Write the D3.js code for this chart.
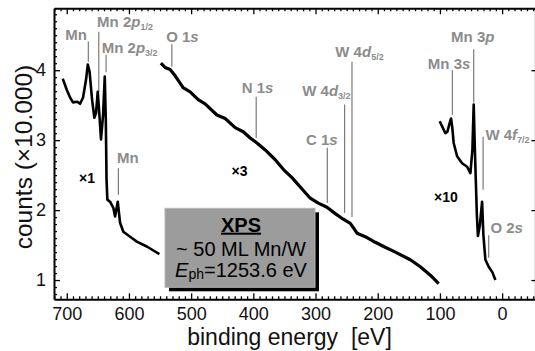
<!DOCTYPE html>
<html><head><meta charset="utf-8">
<script src="https://cdn.jsdelivr.net/npm/d3@7"></script>
<style>
body{margin:0;background:#fff}
svg{display:block}
text{font-family:"Liberation Sans",Arial,Helvetica,sans-serif}
</style>
</head><body>
<svg id="c" width="535" height="351"></svg>
<script>
// ---- data (binding energy in eV, counts in units of 10.000) ----
const seg1Energy = [706.5,700,694.7,689.9,683.4,678.6,673.8,668.9,666.2,663.3,659.3,655.6,652.9,650.2,648.1,644.9,641.6,638.9,637.2,636,634.7,630.4,625,622.3,618,614.3,609,598.1,587.4,571.3,551];
const seg1Counts = [3.88,3.72,3.61,3.54,3.55,3.52,3.61,3.87,4.08,3.98,3.58,3.32,3.39,3.69,3.44,3.01,3.36,3.91,3.29,2.43,2.15,2.12,2.03,1.91,2.12,1.82,1.69,1.62,1.55,1.48,1.37];

const seg2Energy = [548.7,541.8,533.8,525.7,512.9,501.6,488.7,477.5,458.6,445.3,429.2,416.3,405,394.2,380.9,364.8,351.5,337.5,324.6,308.5,295.6,281.6,268.3,255.4,244.1,239.3,233.3,220,203.9,190.5,171.7,147.6,131.5,115.4,102];
const seg2Counts = [4.10,4.04,4.01,3.92,3.75,3.69,3.58,3.52,3.36,3.31,3.18,3.12,3.03,2.96,2.86,2.72,2.58,2.46,2.33,2.17,2.10,2.04,1.95,1.87,1.81,1.75,1.67,1.62,1.54,1.48,1.40,1.29,1.19,1.07,0.95];

const seg3Energy = [100.4,96.1,91.2,88,84.8,82.1,80,77.9,72.4,64.4,56.3,51,47.8,45.7,43.8,40.6,38.9,35.7,32.2,30.1,26.9,21.6,15.6,10.8];
const seg3Counts = [3.27,3.19,3.10,3.12,3.23,3.31,3.17,2.96,2.77,2.67,2.62,2.53,2.86,3.51,2.86,1.93,1.63,1.79,2.12,1.64,1.29,1.19,1.11,1.00];

const xTickLabels = [700,600,500,400,300,200,100,0];
const yTickLabels = [1,2,3,4];

// peak markers: energy, top and bottom of marker line (counts)
const peakNames  = ["Mn","Mn 2p1/2","Mn 2p3/2","Mn","O 1s","N 1s","W 4d3/2","W 4d5/2","C 1s","Mn 3s","Mn 3p","W 4f7/2","O 2s"];
const peakEnergy = [665.3,648.5,636.8,617,531,395.4,253.3,241.4,281.1,80,45.7,30.6,21.6];
const peakTop    = [4.41,4.55,4.22,2.60,4.37,3.62,3.51,4.12,2.89,4.00,4.30,3.05,1.64];
const peakBottom = [4.12,3.69,3.97,2.22,4.05,3.03,1.96,1.90,2.10,3.36,3.54,2.29,1.32];

const scaleNames = ["×1","×3","×10"];
const legendLines = ["XPS","~ 50 ML Mn/W","E=1253.6 eV"];

// ---- layout ----
const svg = d3.select("#c");
const x = d3.scaleLinear().domain([720.5,-53.5]).range([54,535.4]);
const y = d3.scaleLinear().domain([0.725,4.885]).range([299.3,8.3]);
const X0=54, X1=535.4, Y0=299.3, Y1=8.3;

function styleAxis(g){ g.selectAll(".domain").attr("stroke","#000").attr("stroke-width",2);
  g.selectAll(".tick line").attr("stroke","#000").attr("stroke-width",1.3);
  g.selectAll("text").attr("font-size",18).attr("fill","#111").style("font-family",'"Liberation Sans",Arial,sans-serif'); }

const minorX = d3.range(-50,721,10).filter(v=>v%100!==0);
const minorY = d3.range(0.8,4.9,0.1).filter(v=>Math.abs(v-Math.round(v))>0.01);

svg.append("g").attr("transform",`translate(0,${Y0})`)
  .call(d3.axisBottom(x).tickValues(minorX).tickSize(-3).tickSizeOuter(0).tickFormat(""))
  .call(g=>g.select(".domain").remove()).call(styleAxis);
svg.append("g").attr("transform",`translate(0,${Y0})`)
  .call(d3.axisBottom(x).tickValues(xTickLabels).tickSize(-6).tickSizeOuter(0).tickPadding(8).tickFormat(d3.format("d")))
  .call(styleAxis);
svg.append("g").attr("transform",`translate(0,${Y1})`)
  .call(d3.axisTop(x).tickValues(minorX).tickSize(-3).tickSizeOuter(0).tickFormat(""))
  .call(g=>g.select(".domain").remove()).call(styleAxis);
svg.append("g").attr("transform",`translate(0,${Y1})`)
  .call(d3.axisTop(x).tickValues(xTickLabels).tickSize(-6).tickSizeOuter(0).tickFormat(""))
  .call(styleAxis);
svg.append("g").attr("transform",`translate(${X0},0)`)
  .call(d3.axisLeft(y).tickValues(minorY).tickSize(-3).tickSizeOuter(0).tickFormat(""))
  .call(g=>g.select(".domain").remove()).call(styleAxis);
svg.append("g").attr("transform",`translate(${X0},0)`)
  .call(d3.axisLeft(y).tickValues(yTickLabels).tickSize(-6).tickSizeOuter(0).tickPadding(8).tickFormat(d3.format("d")))
  .call(styleAxis);
svg.append("g").attr("transform",`translate(${X1},0)`)
  .call(d3.axisRight(y).tickValues(yTickLabels).tickSize(-4).tickSizeOuter(0).tickFormat(""))
  .call(styleAxis);

// axis titles
svg.append("text").attr("x",289.5).attr("y",345).attr("text-anchor","middle")
  .attr("font-size",23).attr("fill","#111").style("white-space","pre").text("binding energy  [eV]");
svg.append("text").attr("transform","translate(32,157) rotate(-90)").attr("text-anchor","middle")
  .attr("font-size",24.5).attr("fill","#111").text("counts (×10.000)");

// peak marker lines and labels
const labelLayout = [
  {a:"end",dx:-1.5,dy:-2},{a:"start",dx:-1.7,dy:-5},{a:"start",dx:-4.3,dy:-2},{a:"start",dx:-1.3,dy:-5},
  {a:"start",dx:-5.7,dy:-2},{a:"middle",dx:1.4,dy:-4},{a:"end",dx:6,dy:-8},{a:"start",dx:-16.7,dy:-5},
  {a:"middle",dx:-5.5,dy:-3},{a:"end",dx:18,dy:-1},{a:"start",dx:-22.6,dy:-7},{a:"start",dx:2.3,dy:3},
  {a:"start",dx:1.7,dy:-2}];
const pk = svg.append("g");
peakNames.forEach((name,i)=>{
  const px = x(peakEnergy[i]);
  pk.append("line").attr("x1",px).attr("x2",px).attr("y1",y(peakTop[i])).attr("y2",y(peakBottom[i]))
    .attr("stroke","#7a7a7a").attr("stroke-width",1.2);
  const L = labelLayout[i];
  const t = pk.append("text").attr("x",px+L.dx).attr("y",y(peakTop[i])+L.dy).attr("text-anchor",L.a)
    .attr("font-size",15).attr("font-weight","bold").attr("fill","#8c8c8c");
  const m = name.match(/^(.*\d)([a-z])(\d\/\d)?$/);
  if(m){
    t.append("tspan").text(m[1]);
    t.append("tspan").attr("font-style","italic").text(m[2]);
    if(m[3]) t.append("tspan").attr("font-size",9).attr("dy",3).text(m[3]);
  } else t.text(name);
});

// spectra
const line = d3.line().x(d=>x(d[0])).y(d=>y(d[1]));
const widths = [2.6,3.2,2.6];
[[seg1Energy,seg1Counts],[seg2Energy,seg2Counts],[seg3Energy,seg3Counts]].forEach(([e,c],k)=>{
  svg.append("path").datum(e.map((v,i)=>[v,c[i]])).attr("d",line)
    .attr("fill","none").attr("stroke","#000").attr("stroke-width",widths[k]).attr("stroke-linejoin","round");
});

// scale factors
const scalePos = [[79,183],[231.5,176],[434,201.7]];
scaleNames.forEach((s,i)=>svg.append("text").attr("x",scalePos[i][0]).attr("y",scalePos[i][1])
  .attr("font-size",14).attr("font-weight","bold").attr("fill","#000").text(s));

// legend box
const lg = svg.append("g");
lg.append("rect").attr("x",169).attr("y",212.3).attr("width",150).attr("height",79).attr("fill","#000");
lg.append("rect").attr("x",165).attr("y",208.3).attr("width",150).attr("height",79).attr("fill","#9c9c9c").attr("stroke","#b5b5b5").attr("stroke-width",1);
lg.append("text").attr("x",241).attr("y",231.7).attr("text-anchor","middle").attr("font-size",20)
  .attr("font-weight","bold").attr("text-decoration","underline").attr("fill","#000").text(legendLines[0]);
lg.append("text").attr("x",241).attr("y",256).attr("text-anchor","middle").attr("font-size",20).attr("fill","#000").text(legendLines[1]);
const et = lg.append("text").attr("x",241).attr("y",276.7).attr("text-anchor","middle").attr("font-size",20).attr("fill","#000");
et.append("tspan").attr("font-style","italic").text(legendLines[2].slice(0,1));
et.append("tspan").attr("font-size",14).attr("dy",2).text("ph");
et.append("tspan").attr("dy",-2).text(legendLines[2].slice(1));
</script>
</body></html>
